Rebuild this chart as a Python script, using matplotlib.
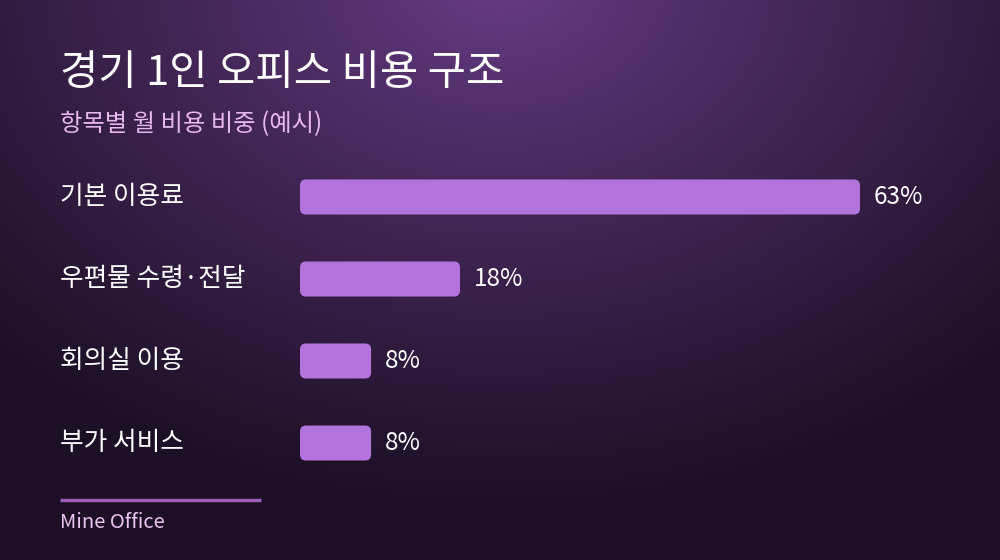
import numpy as np
import matplotlib.pyplot as plt
from matplotlib.patches import FancyBboxPatch
from matplotlib import transforms

plt.rcParams['font.family'] = ['Noto Sans CJK KR', 'DejaVu Sans']

categories = ['기본 이용료', '우편물 수령·전달', '회의실 이용', '부가 서비스']
shares = [63, 18, 8, 8]
value_labels = ['63%', '18%', '8%', '8%']

title = '경기 1인 오피스 비용 구조'
subtitle = '항목별 월 비용 비중 (예시)'
footer = 'Mine Office'

W, H = 1000, 560
fig = plt.figure(figsize=(W / 100, H / 100), dpi=100)

# background: radial glow from the top centre
bg = fig.add_axes([0, 0, 1, 1])
yy, xx = np.mgrid[0:H, 0:W]
d = np.sqrt(((xx - 500) / 700.0) ** 2 + ((yy + 20) / 520.0) ** 2)
d = np.clip(d, 0, 1) ** 0.9
light = np.array([0x68, 0x3c, 0x86]) / 255
dark = np.array([0x1d, 0x10, 0x26]) / 255
img = light[None, None, :] * (1 - d[..., None]) + dark[None, None, :] * d[..., None]
bg.imshow(img, extent=[0, W, H, 0], aspect='auto')
bg.set_xlim(0, W)
bg.set_ylim(H, 0)
bg.axis('off')

# bar axes: 300px -> 1000px, 8.889 px per percent
px_per_unit = 560 / 63
ax = fig.add_axes([0.3, (H - 484) / H, 0.7, 328 / H])
ax.set_xlim(0, 700 / px_per_unit)
ax.set_ylim(len(categories) - 0.5, -0.5)
ax.axis('off')
ax.patch.set_alpha(0)

bar_h = 35 / 82
r = 6 / px_per_unit
aspect = px_per_unit / 82
for i, v in enumerate(shares):
    p = FancyBboxPatch((0, i - bar_h / 2), v, bar_h,
                       boxstyle=f'round,pad=0,rounding_size={r}',
                       mutation_aspect=aspect,
                       fc='#b373dc', ec='none')
    ax.add_patch(p)
    ax.annotate(value_labels[i], (v, i), xytext=(10, 0), textcoords='offset points',
                va='center', ha='left', color='white', fontsize=17.5)

trans = transforms.blended_transform_factory(fig.transFigure, ax.transData)
for i, c in enumerate(categories):
    ax.text(0.06, i - 0.0, c, transform=trans, va='center', ha='left',
            color='white', fontsize=18.5, clip_on=False)

fig.text(0.06, 1 - 73 / H, title, color='white', fontsize=30, va='center', ha='left',
         fontweight='medium')
fig.text(0.06, 1 - 124 / H, subtitle, color='#e6b8ee', fontsize=17.5, va='center', ha='left')

bg.plot([60, 261], [500, 500], color='#9a5cb8', lw=2.5, solid_capstyle='butt')
fig.text(0.06, 1 - 522 / H, footer, color='#ebc4f2', fontsize=14.5, va='center', ha='left')

fig.savefig('out.png', dpi=100)
